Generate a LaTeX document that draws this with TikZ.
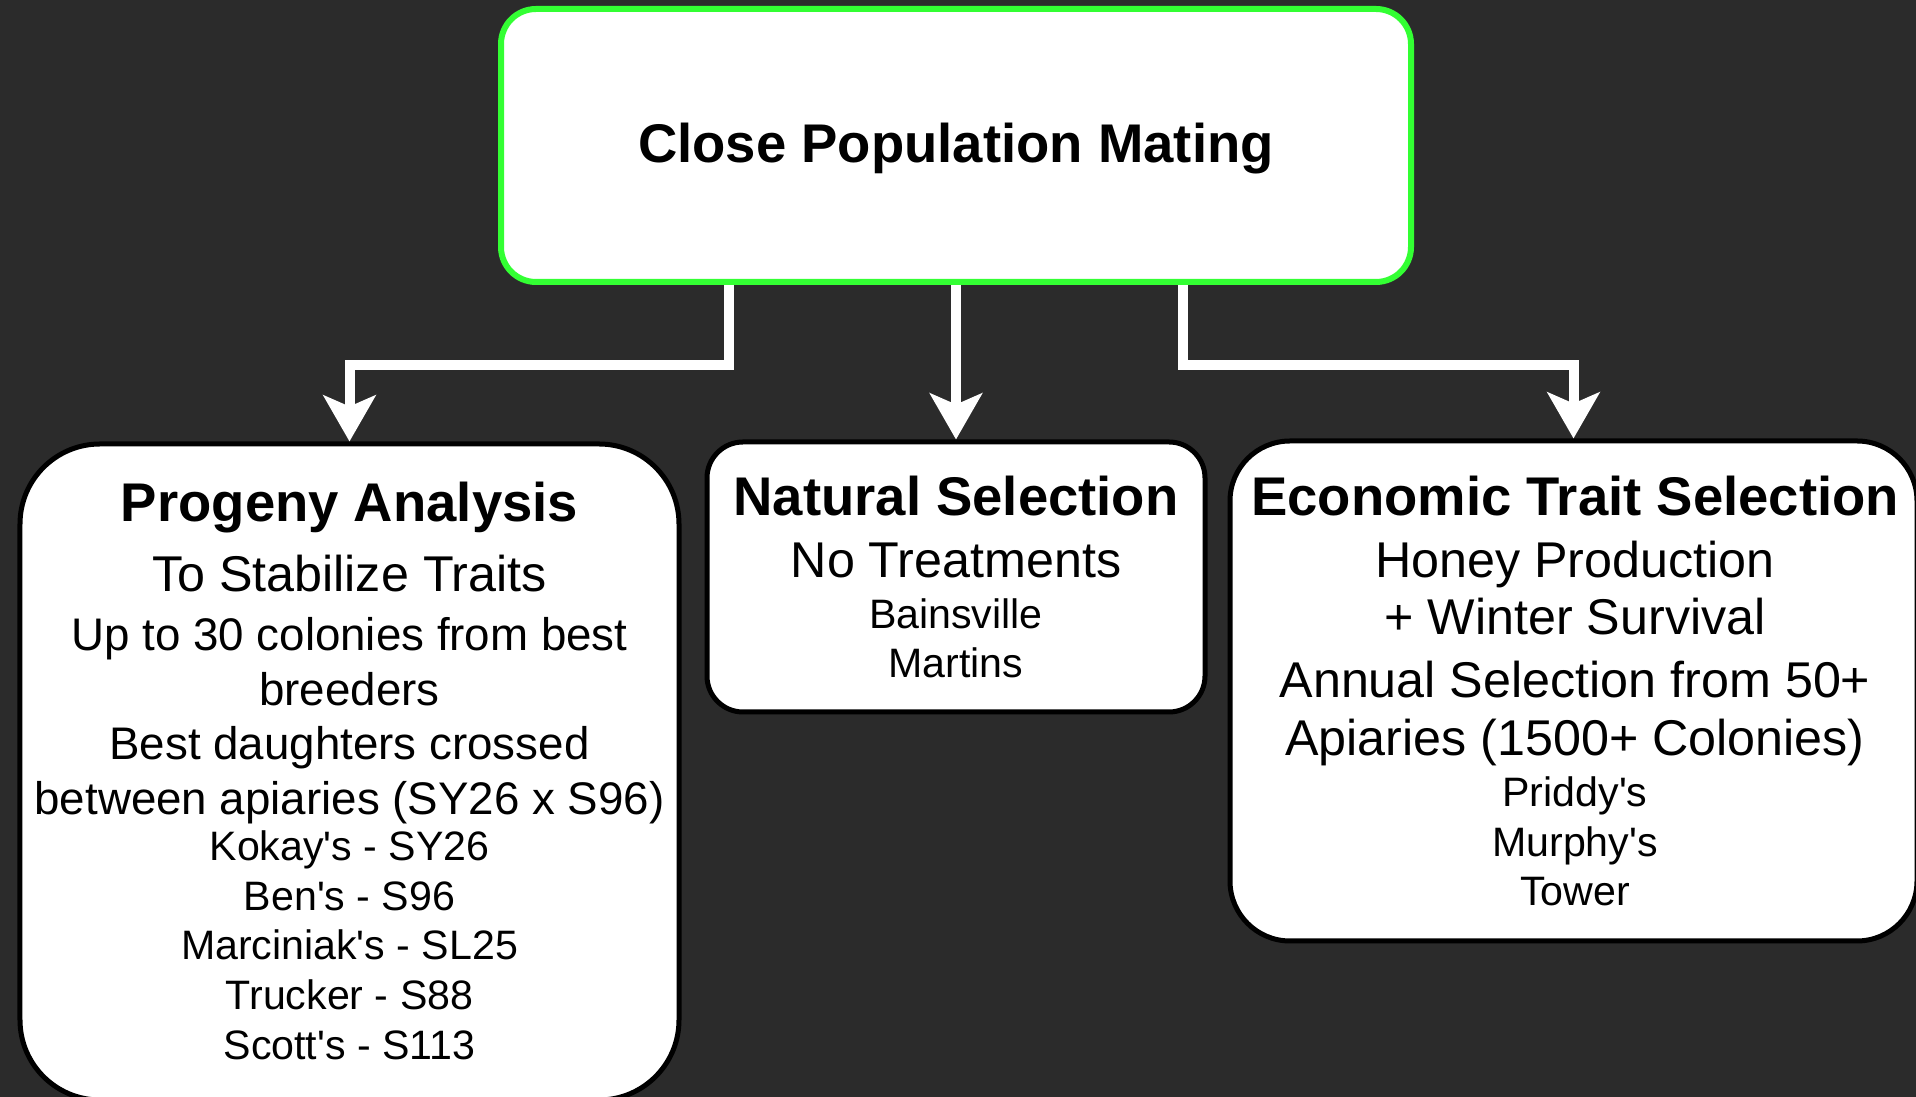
\documentclass[tikz,border=0pt]{standalone}
\usepackage{fontspec}
\setmainfont{Liberation Sans}
\usetikzlibrary{arrows.meta}
\definecolor{chalk}{RGB}{43,43,43}
\definecolor{matgreen}{RGB}{51,255,51}
\newcommand{\apos}{\textquotesingle}
\tikzset{
  box/.style={draw=black, line width=0.05cm, fill=white, rounded corners=#1},
  conn/.style={draw=white, line width=0.1cm, -{Stealth[length=0.46cm, width=0.52cm, inset=0.11cm]}},
  head/.style={anchor=base, inner sep=0, font=\fontsize{15.5}{18}\selectfont\bfseries},
  txt/.style={anchor=base, inner sep=0, font=\fontsize{14.3}{16}\selectfont},
  txtmid/.style={anchor=base, inner sep=0, font=\fontsize{13}{15}\selectfont},
  txtsmall/.style={anchor=base, inner sep=0, font=\fontsize{11.7}{14}\selectfont}
}
\begin{document}
\begin{tikzpicture}[scale=1]
\useasboundingbox (0,0) rectangle (19.16,10.97);
\fill[chalk] (0,0) rectangle (19.16,10.97);

% top box
\node[box=0.35cm, draw=matgreen, line width=0.06cm, minimum width=9.1cm, minimum height=2.73cm] (cpm) at (9.56,9.515) {};
\node[head] (cpmt) at (9.56,9.34) {Close Population Mating};

% three branches
\node[box=0.8cm, minimum width=6.59cm, minimum height=6.56cm] (pa) at (3.495,3.25) {};
\node[box=0.36cm, minimum width=4.98cm, minimum height=2.7cm] (ns) at (9.56,5.20) {};
\node[box=0.6cm, minimum width=6.87cm, minimum height=5cm] (ets) at (15.735,4.06) {};

\node[head] (pa1) at (3.495,5.75) {Progeny Analysis};
\node[txt] (pa2) at (3.495,5.05) {To Stabilize Traits};
\node[txtmid] (pa3) at (3.495,4.46) {Up to 30 colonies from best};
\node[txtmid] (pa4) at (3.495,3.91) {breeders};
\node[txtmid] (pa5) at (3.495,3.37) {Best daughters crossed};
\node[txtmid] (pa6) at (3.495,2.82) {between apiaries (SY26 x S96)};
\node[txtsmall] (pa7) at (3.495,2.36) {Kokay\apos s - SY26};
\node[txtsmall] (pa8) at (3.495,1.86) {Ben\apos s - S96};
\node[txtsmall] (pa9) at (3.495,1.37) {Marciniak\apos s - SL25};
\node[txtsmall] (pa10) at (3.495,0.87) {Trucker - S88};
\node[txtsmall] (pa11) at (3.495,0.37) {Scott\apos s - S113};

\node[head] (ns1) at (9.56,5.81) {Natural Selection};
\node[txt] (ns2) at (9.56,5.19) {No Treatments};
\node[txtsmall] (ns3) at (9.56,4.68) {Bainsville};
\node[txtsmall] (ns4) at (9.56,4.19) {Martins};

\node[head] (et1) at (15.75,5.81) {Economic Trait Selection};
\node[txt] (et2) at (15.75,5.19) {Honey Production};
\node[txt] (et3) at (15.75,4.62) {+ Winter Survival};
\node[txt] (et4) at (15.75,3.99) {Annual Selection from 50+};
\node[txt] (et5) at (15.75,3.41) {Apiaries (1500+ Colonies)};
\node[txtsmall] (et6) at (15.75,2.90) {Priddy\apos s};
\node[txtsmall] (et7) at (15.75,2.40) {Murphy\apos s};
\node[txtsmall] (et8) at (15.75,1.91) {Tower};

% connectors
\draw[conn] ([xshift=-2.27cm]cpm.south) -- ++(0,-0.8) -| (pa.north);
\draw[conn] (cpm.south) -- (ns.north);
\draw[conn] ([xshift=2.27cm]cpm.south) -- ++(0,-0.8) -| (ets.north);

\end{tikzpicture}
\end{document}
